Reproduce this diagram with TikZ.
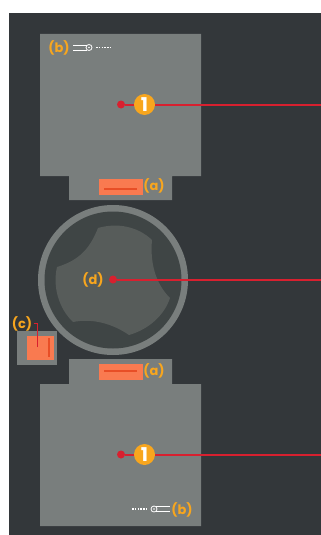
\documentclass[tikz,border=0pt]{standalone}
\usepackage{fontspec}
\setmainfont{Poppins}
\definecolor{casedark}{HTML}{33373A}
\definecolor{blockgrey}{HTML}{797E7D}
\definecolor{rotordark}{HTML}{3F4545}
\definecolor{rotorlight}{HTML}{575C5A}
\definecolor{padorange}{HTML}{F97A50}
\definecolor{padline}{HTML}{E84E26}
\definecolor{amber}{HTML}{F8A61E}
\definecolor{leadred}{HTML}{D8202F}
\tikzset{
  tag/.style={text=amber, font=\fontsize{13}{13}\selectfont\bfseries, inner sep=0pt},
  badge/.style={circle, fill=amber, text=white, minimum size=21pt, inner sep=0pt, font=\fontsize{19}{19}\selectfont\bfseries},
  leaddot/.style={circle, fill=leadred, minimum size=8pt, inner sep=0pt},
  lead/.style={draw=leadred, line width=2pt},
  padstroke/.style={draw=padline, line width=1.8pt},
  wire/.style={draw=white, line width=0.8pt},
  beads/.style={draw=white, line width=1.6pt, dash pattern=on 1.6pt off 1.2pt}
}
\begin{document}
\begin{tikzpicture}[x=1pt, y=-1pt]
  \useasboundingbox (0,0) rectangle (321,535);
  \fill[white] (0,0) rectangle (321,535);
  \fill[casedark] (9,13) rectangle (321,535);
  % blocks
  \fill[blockgrey] (40,34) -- (201,34) -- (201,176) -- (172,176) -- (172,200) -- (69,200) -- (69,176) -- (40,176) -- cycle;
  \fill[blockgrey] (69,359) -- (172,359) -- (172,384) -- (201,384) -- (201,526) -- (40,526) -- (40,384) -- (69,384) -- cycle;
  \fill[blockgrey] (17,331) rectangle (57,365);
  % rotor
  \coordinate (R) at (113,280);
  \fill[blockgrey] (R) circle (75);
  \fill[rotordark] (R) circle (68.5);
  \fill[rotorlight] (57,267) .. controls (80,260) and (90,248) .. (98,228)
    .. controls (117,222.5) and (137.6,226.2) .. (152,240)
    .. controls (150,262) and (155,283) .. (170,298)
    .. controls (164,316.3) and (147.5,329.7) .. (129,335)
    .. controls (113,324) and (93,318) .. (73,322)
    .. controls (58.6,308.2) and (52.5,286.5) .. (57,267) -- cycle;
  % pads
  \fill[padorange] (99,179) rectangle (143,195);
  \fill[padorange] (99,364) rectangle (143,380);
  \fill[padorange] (27,336) rectangle (54,360);
  \draw[padstroke] (104,189) -- (137,189);
  \draw[padstroke] (104,371) -- (137,371);
  \draw[padstroke] (49,338) -- (49,357);
  % top contact
  \coordinate (b1) at (89,47.5);
  \draw[wire] (73,45) -- (87,45) (73,50) -- (87,50);
  \draw[wire] (b1) circle (3);
  \fill[white] (b1) circle (0.8);
  \draw[beads] (96,47.5) -- (111,47.5);
  \node[tag] (tagb1) at (59,48) {(b)};
  % bottom contact
  \coordinate (b2) at (154,509);
  \draw[wire] (156,506.5) -- (170,506.5) (156,511.5) -- (170,511.5);
  \draw[wire] (b2) circle (3);
  \fill[white] (b2) circle (0.8);
  \draw[beads] (132,509) -- (147,509);
  \node[tag] (tagb2) at (182,510) {(b)};
  % labels
  \node[tag] (taga1) at (154,186) {(a)};
  \node[tag] (taga2) at (154,371) {(a)};
  \node[tag] (tagc) at (22,324) {(c)};
  \node[tag] (tagd) at (93,279.5) {(d)};
  % leads
  \node[leaddot] (dot1) at (121,104.5) {};
  \node[leaddot] (dot2) at (113,279.5) {};
  \node[leaddot] (dot3) at (121,454.5) {};
  \coordinate (end1) at (321,104.5);
  \coordinate (end2) at (321,279.5);
  \coordinate (end3) at (321,454.5);
  \draw[lead] (dot1) -- (end1);
  \draw[lead] (dot2) -- (end2);
  \draw[lead] (dot3) -- (end3);
  \node[badge] (one1) at (144.5,104.5) {1};
  \node[badge] (one3) at (144.5,454.5) {1};
  % sensor lead
  \coordinate (c1) at (37.5,347);
  \coordinate (c2) at (34,323.5);
  \draw[draw=leadred, line width=1.1pt] (c1) |- (c2);
\end{tikzpicture}
\end{document}
